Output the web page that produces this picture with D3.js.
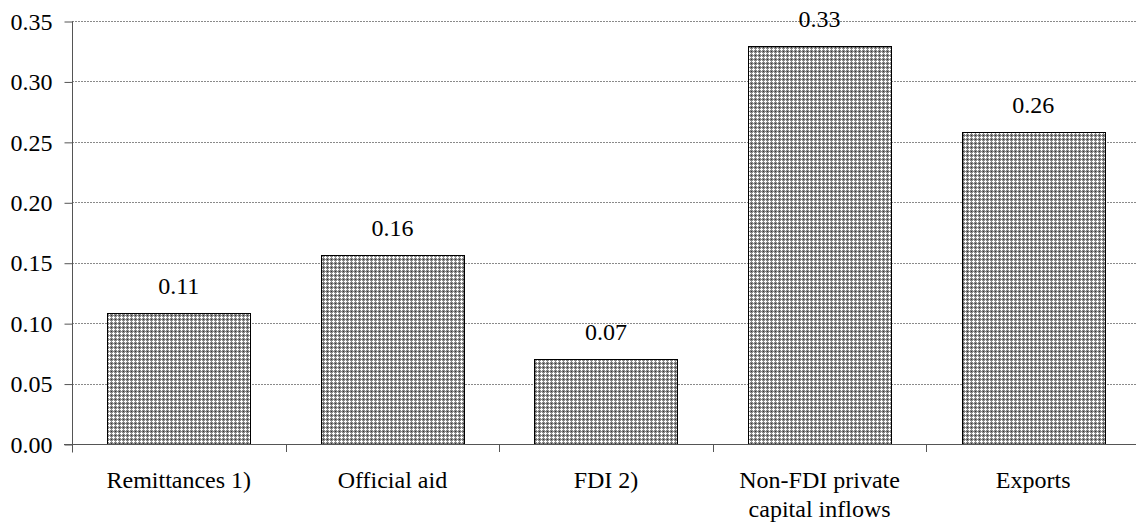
<!DOCTYPE html>
<html><head><meta charset="utf-8">
<script src="https://cdn.jsdelivr.net/npm/d3@7/dist/d3.min.js"></script>
<style>body{margin:0;background:#fff}svg{display:block}svg text{font-family:"Liberation Serif","Times New Roman",serif !important;fill:#000}</style>
</head><body><svg id="c" width="1136" height="522"></svg>
<script>
const categories = [["Remittances 1)"], ["Official aid"], ["FDI 2)"], ["Non-FDI private", "capital inflows"], ["Exports"]];
const values = [0.108, 0.156, 0.070, 0.329, 0.258];
const valueLabels = ["0.11", "0.16", "0.07", "0.33", "0.26"];
const yTicks = [0, 0.05, 0.10, 0.15, 0.20, 0.25, 0.30, 0.35];

const FS = 24;
const svg = d3.select("#c");
const x0 = 72, x1 = 1140, yTop = 21, yBot = 444;
const x = d3.scaleBand().domain(d3.range(categories.length)).range([x0, x1]).paddingInner(0.33).paddingOuter(0.165);
const xb = d3.scaleBand().domain(d3.range(categories.length)).range([x0, x1]);
const y = d3.scaleLinear().domain([0, 0.35]).range([yBot, yTop]);

const defs = svg.append("defs");
const pat = defs.append("pattern").attr("id", "hatch").attr("patternUnits", "userSpaceOnUse").attr("width", 4).attr("height", 4);
pat.append("rect").attr("width", 4).attr("height", 4).attr("fill", "#888");
[[1,0],[0,1],[1,1],[2,1],[1,2]].forEach(([a,b]) => pat.append("rect").attr("x", a).attr("y", b).attr("width", 1).attr("height", 1).attr("fill", "#fff"));
pat.append("rect").attr("x", 3).attr("y", 3).attr("width", 1).attr("height", 1).attr("fill", "#333");

// gridlines
svg.append("g").selectAll("line").data(yTicks.filter(d => d > 0)).join("line")
  .attr("x1", x0).attr("x2", 1136).attr("y1", d => Math.round(y(d)) + 0.5).attr("y2", d => Math.round(y(d)) + 0.5)
  .attr("stroke", "#8a8a8a").attr("stroke-width", 1).attr("stroke-dasharray", "2,1");

// bars
svg.append("g").selectAll("rect").data(values).join("rect")
  .attr("x", (d, i) => Math.round(x(i)) + 0.5).attr("width", Math.round(x.bandwidth()))
  .attr("y", d => Math.round(y(d)) + 0.5).attr("height", d => Math.round(yBot) - Math.round(y(d)))
  .attr("fill", "url(#hatch)").attr("stroke", "#000").attr("stroke-width", 1);

// value labels
svg.append("g").selectAll("text").data(values).join("text")
  .attr("x", (d, i) => x(i) + x.bandwidth() / 2).attr("y", d => y(d) - 19)
  .attr("text-anchor", "middle").attr("font-size", FS).text((d, i) => valueLabels[i]);

// y axis
const yAxis = d3.axisLeft(y).tickValues(yTicks).tickFormat(d3.format(".2f")).tickSize(8).tickPadding(12);
const gy = svg.append("g").attr("transform", `translate(${x0 + 0.5},0.5)`).call(yAxis);
gy.attr("font-size", FS).attr("font-family", null);
gy.select(".domain").attr("stroke", "#555").attr("d", `M0,${yTop}V${yBot + 8}`);
gy.selectAll(".tick line").attr("stroke", "#555");
gy.selectAll(".tick text").attr("font-size", FS).attr("fill", "#000");

// x axis
svg.append("line").attr("x1", x0 - 8).attr("x2", 1136).attr("y1", yBot + 0.5).attr("y2", yBot + 0.5).attr("stroke", "#555");
svg.append("g").selectAll("line").data(d3.range(1, categories.length)).join("line")
  .attr("x1", d => Math.round(xb(d)) + 0.5).attr("x2", d => Math.round(xb(d)) + 0.5)
  .attr("y1", yBot).attr("y2", yBot + 8).attr("stroke", "#555");

const cl = svg.append("g").selectAll("text").data(categories).join("text")
  .attr("x", (d, i) => xb(i) + xb.bandwidth() / 2).attr("y", 488)
  .attr("text-anchor", "middle").attr("font-size", FS);
cl.selectAll("tspan").data(d => d).join("tspan")
  .attr("x", function() { return this.parentNode.getAttribute("x"); })
  .attr("dy", (d, j) => j === 0 ? 0 : 29).text(d => d);
</script></body></html>
